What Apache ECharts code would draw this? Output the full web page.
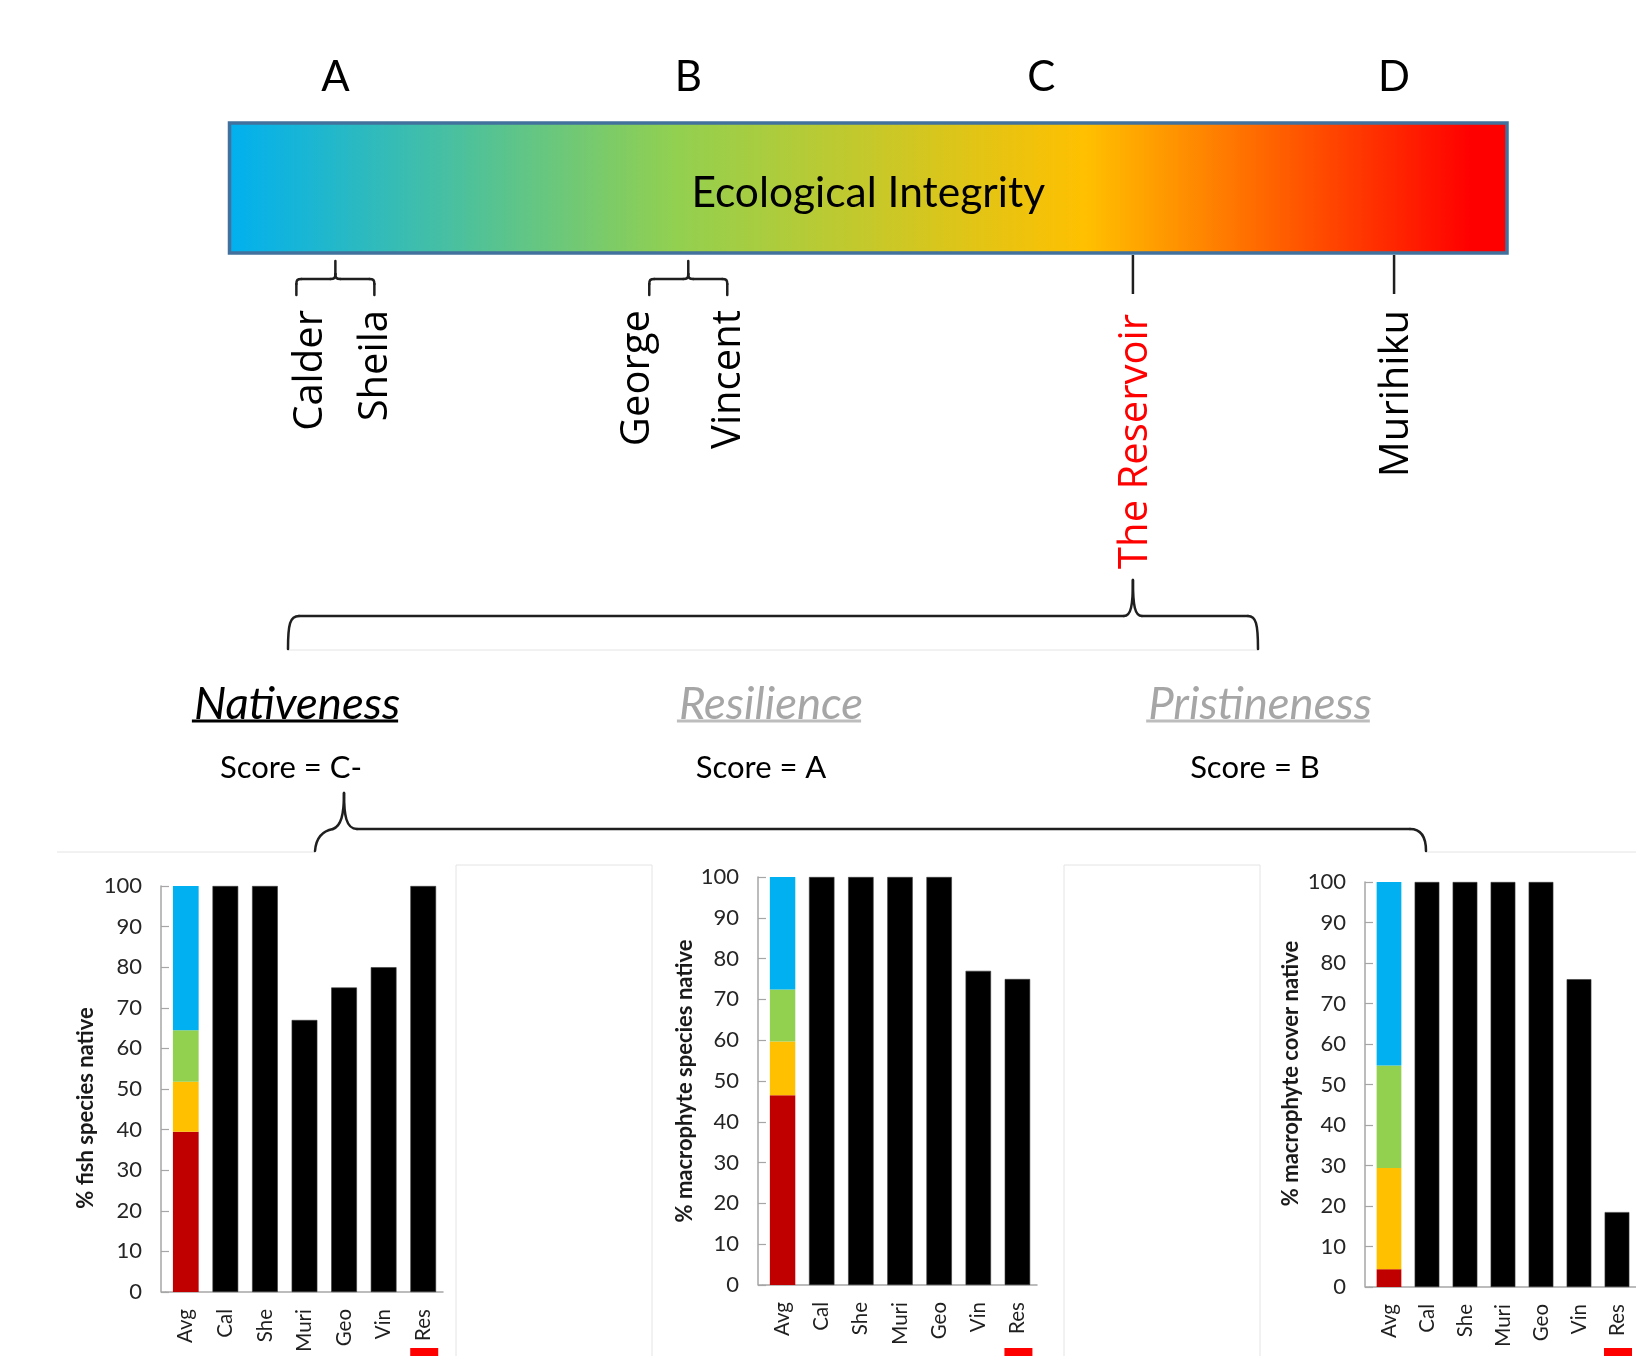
<!DOCTYPE html>
<html><head><meta charset="utf-8">
<script src="https://cdn.jsdelivr.net/npm/echarts@6/dist/echarts.min.js"></script>
<style>html,body{margin:0;padding:0;background:#fff}#c{width:1636px;height:1356px}</style>
</head><body><div id="c"></div>
<script>
// ---------------- data ----------------
const categories = ['Avg', 'Cal', 'She', 'Muri', 'Geo', 'Vin', 'Res'];
const yMin = 0, yMax = 100, yStep = 10;
// Avg stacked segments: [red, yellow, green, blue]
const fishAvgSegments = [39.5, 12.3, 12.7, 35.5];
const fishSites = [100, 100, 67, 75, 80, 100];
const speciesAvgSegments = [46.5, 13.2, 12.7, 27.6];
const speciesSites = [100, 100, 100, 100, 77, 75];
const coverAvgSegments = [4.4, 25.0, 25.3, 45.3];
const coverSites = [100, 100, 100, 100, 76, 18.5];
const axisNames = ['% fish species native', '% macrophyte species native', '% macrophyte cover native'];
const segmentColors = ['#c00000', '#ffc000', '#92d050', '#00b0f0'];

// integrity scale
const grades = ['A', 'B', 'C', 'D'];
const gradePositions = [1, 2, 3, 4];
const pairLabels = [['Calder', 'Sheila'], ['George', 'Vincent']];
const pairPositions = [1.0, 2.0];
const singleLabels = ['The Reservoir', 'Murihiku'];
const singlePositions = [3.26, 4.0];
const singleColors = ['#ff0000', '#000000'];
const components = ['Nativeness', 'Resilience', 'Pristineness'];
const componentColors = ['#000000', '#a6a6a6', '#a6a6a6'];
const scores = ['Score = C-', 'Score = A', 'Score = B'];

// ---------------- layout ----------------
const chart = echarts.init(document.getElementById('c'), null, {renderer: 'canvas'});
const grids = [
  {left: 166, top: 886, width: 277, height: 406},
  {left: 763, top: 877, width: 274, height: 408},
  {left: 1370, top: 882, width: 277, height: 405},
  {left: 229.5, top: 123, width: 1277.5, height: 130}
];
const nameGaps = [64, 62, 63];
const namePads = [[0, 38, 0, 0], [0, 0, 0, 0], [0, 0, 0, 22]];
const avgSets = [fishAvgSegments, speciesAvgSegments, coverAvgSegments];
const siteSets = [fishSites, speciesSites, coverSites];

const xAxes = [], yAxes = [], series = [];
for (let i = 0; i < 3; i++) {
  xAxes.push({
    type: 'category', gridIndex: i, data: categories,
    axisLine: {lineStyle: {color: '#a6a6a6', width: 1.5}},
    axisTick: {show: false},
    axisLabel: {rotate: 90, interval: 0, fontFamily: 'Lato', fontSize: 20.5, color: '#1f1f1f', margin: 17}
  });
  yAxes.push({
    type: 'value', gridIndex: i, min: yMin, max: yMax, interval: yStep, offset: 5,
    axisLine: {show: true, lineStyle: {color: '#a6a6a6', width: 1.5}},
    axisTick: {show: true, inside: true, length: 8, lineStyle: {color: '#a6a6a6', width: 1.2}},
    splitLine: {show: false},
    axisLabel: {fontFamily: 'Lato', fontSize: 22, color: '#262626', margin: 19},
    name: axisNames[i], nameLocation: 'middle', nameGap: nameGaps[i],
    nameTextStyle: {fontFamily: 'Lato', fontWeight: 'bold', fontSize: 22, color: '#1a1a1a', padding: namePads[i]}
  });
  for (let s = 0; s < 4; s++) {
    series.push({
      type: 'bar', xAxisIndex: i, yAxisIndex: i, stack: 'st' + i, barWidth: '65%',
      data: categories.map((c, k) => k === 0 ? avgSets[i][s] : '-'),
      itemStyle: {color: segmentColors[s]}, silent: true
    });
  }
  series.push({
    type: 'bar', xAxisIndex: i, yAxisIndex: i, stack: 'st' + i, barWidth: '65%',
    data: ['-'].concat(siteSets[i]),
    itemStyle: {color: '#000000', borderColor: '#3a3a3a', borderWidth: 0.6}, silent: true
  });
}
xAxes.push({type: 'value', gridIndex: 3, min: 0.7, max: 4.32, show: false});
yAxes.push({type: 'value', gridIndex: 3, min: 0, max: 1, show: false});

chart.setOption({
  animation: false,
  backgroundColor: '#ffffff',
  grid: grids,
  xAxis: xAxes,
  yAxis: yAxes,
  series: series
});

// ---------------- decorations ----------------
const px = v => chart.convertToPixel({xAxisIndex: 3}, v);
const measure = (t, font) => {
  const ctx = document.createElement('canvas').getContext('2d');
  ctx.font = font; return ctx.measureText(t).width;
};
const g = [];
const txt = (text, x, y, opts) => Object.assign({
  type: 'text', x: x, y: y, z: 10,
  style: Object.assign({text: text, x: 0, y: 0, fill: '#000', align: 'center', textAlign: 'center',
    verticalAlign: 'middle', textVerticalAlign: 'middle', fontFamily: 'Lato', fontSize: 40}, opts.style || {})
}, opts.el || {});
const LINE = '#1f1f1f';
const stroke = {fill: null, stroke: LINE, lineWidth: 2.5, lineCap: 'round', lineJoin: 'round'};
// path from segment list: start [x,y], then ['L',x,y] / ['C',c1x,c1y,c2x,c2y,x,y] / ['M',x,y]
function pathEls(start, segs) {
  let cx = start[0], cy = start[1];
  segs.forEach(s => {
    if (s[0] === 'M') { cx = s[1]; cy = s[2]; return; }
    if (s[0] === 'L') {
      g.push({type: 'line', z: 6, shape: {x1: cx, y1: cy, x2: s[1], y2: s[2]}, style: stroke});
      cx = s[1]; cy = s[2];
    } else {
      g.push({type: 'bezierCurve', z: 6, shape: {x1: cx, y1: cy, cpx1: s[1], cpy1: s[2], cpx2: s[3], cpy2: s[4], x2: s[5], y2: s[6]}, style: stroke});
      cx = s[5]; cy = s[6];
    }
  });
}

// faint background guide lines / empty panels
const faint = '#e4e4e4';
g.push({type: 'rect', z: 1, shape: {x: 456, y: 865, width: 196, height: 600}, style: {fill: null, stroke: faint, lineWidth: 1}});
g.push({type: 'rect', z: 1, shape: {x: 1064, y: 865, width: 196, height: 600}, style: {fill: null, stroke: faint, lineWidth: 1}});
g.push({type: 'line', z: 1, shape: {x1: 57, y1: 852, x2: 315, y2: 852}, style: {stroke: faint, lineWidth: 1}});
g.push({type: 'line', z: 1, shape: {x1: 1426, y1: 852, x2: 1636, y2: 852}, style: {stroke: faint, lineWidth: 1}});
g.push({type: 'line', z: 1, shape: {x1: 288, y1: 650, x2: 1258, y2: 650}, style: {stroke: faint, lineWidth: 1}});

// close the small gap between offset y axis and x axis line
for (let i = 0; i < 3; i++) {
  const yb = grids[i].top + grids[i].height;
  g.push({type: 'line', z: 3, shape: {x1: grids[i].left - 5, y1: yb, x2: grids[i].left, y2: yb}, style: {stroke: '#a6a6a6', lineWidth: 1.5}});
}

// gradient bar
const gb = grids[3];
g.push({
  type: 'rect', z: 5,
  shape: {x: gb.left, y: gb.top, width: gb.width, height: gb.height},
  style: {
    fill: new echarts.graphic.LinearGradient(0, 0, 1, 0, [
      {offset: 0, color: '#00b0f0'},
      {offset: 0.35, color: '#92d050'},
      {offset: 0.67, color: '#ffc000'},
      {offset: 0.97, color: '#ff0000'},
      {offset: 1, color: '#ff0000'}
    ]),
    stroke: '#41719c', lineWidth: 3.5
  }
});
g.push(txt('Ecological Integrity', gb.left + gb.width / 2, 193, {style: {fontSize: 42.5}}));

// grade letters
grades.forEach((l, k) => g.push(txt(l, px(gradePositions[k]), 77, {style: {fontSize: 42}})));

// site labels font
const siteFont = {fontFamily: 'Open Sans', fontSize: 40, align: 'right', textAlign: 'right'};
const firstLabelDx = [14, -12];
// brackets for pairs
pairPositions.forEach((p, k) => {
  const cx = px(p), h = 39;
  pathEls([cx - h, 295], [['L', cx - h, 284], ['C', cx - h, 280, cx - h + 1, 279, cx - h + 5, 279], ['L', cx - 5, 279],
    ['C', cx - 1, 279, cx, 278, cx, 274], ['L', cx, 261], ['M', cx, 274],
    ['C', cx, 278, cx + 1, 279, cx + 5, 279], ['L', cx + h - 5, 279], ['C', cx + h - 1, 279, cx + h, 280, cx + h, 284], ['L', cx + h, 295]]);
  g.push(txt(pairLabels[k][0], cx - h + firstLabelDx[k], 310, {el: {rotation: Math.PI / 2}, style: siteFont}));
  g.push(txt(pairLabels[k][1], cx + h + 1, 310, {el: {rotation: Math.PI / 2}, style: siteFont}));
});
// single ticks
singlePositions.forEach((p, k) => {
  const cx = px(p);
  g.push({type: 'line', z: 6, shape: {x1: cx, y1: 255, x2: cx, y2: 294}, style: {stroke: LINE, lineWidth: 2.5}});
  g.push(txt(singleLabels[k], cx + 3, k === 0 ? 314 : 310, {el: {rotation: Math.PI / 2},
    style: Object.assign({}, siteFont, {fill: singleColors[k]})}));
});

// big brace under The Reservoir
const tip = px(singlePositions[0]);
pathEls([288, 649], [['C', 288, 624, 290, 616, 299, 616], ['L', tip - 9, 616], ['C', tip - 2, 616, tip, 606, tip, 580],
  ['C', tip, 606, tip + 2, 616, tip + 9, 616], ['L', 1248, 616], ['C', 1256, 616, 1258, 624, 1258, 649]]);

// component headings + underlines
const headX = [297, 771, 1260];
const headSize = 45.5;
components.forEach((c, k) => {
  g.push(txt(c, headX[k], 704, {style: {fontSize: headSize, fontStyle: 'italic', fill: componentColors[k]}}));
  const w = measure(c, 'italic ' + headSize + 'px Lato');
  g.push({type: 'line', z: 6, shape: {x1: headX[k] - w / 2 - 2, y1: 721, x2: headX[k] + w / 2 - 2, y2: 721},
    style: {stroke: k === 0 ? '#000' : '#bdbdbd', lineWidth: 3}});
});
const scoreX = [291, 761, 1255];
scores.forEach((s, k) => g.push(txt(s, scoreX[k], 768, {style: {fontSize: 31}})));

// brace from Nativeness score to the charts
pathEls([315, 851], [['C', 316, 838, 322, 831, 333, 829], ['C', 341, 826, 344, 815, 344, 793],
  ['C', 344, 815, 346, 829, 357, 829], ['L', 1410, 829], ['C', 1420, 829, 1426, 836, 1426, 851]]);

// red markers under "Res"
for (let i = 0; i < 3; i++) {
  const cx = chart.convertToPixel({xAxisIndex: i}, 'Res');
  g.push({type: 'rect', z: 6, shape: {x: cx - 13, y: 1348, width: 28, height: 20}, style: {fill: '#ff0000'}});
}

chart.setOption({graphic: {elements: g}});
</script></body></html>
